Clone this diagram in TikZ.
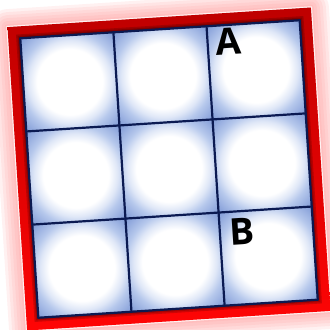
\documentclass[tikz,border=0pt]{standalone}
\usepackage{fontspec}
\setsansfont{Open Sans}
\definecolor{cellmid}{HTML}{DFE7F7}
\definecolor{celledge}{HTML}{B6C8EC}
\definecolor{celldeep}{HTML}{7591D2}
\definecolor{gridnavy}{HTML}{0B1A52}
\definecolor{framedark}{HTML}{BE0000}
\definecolor{framered}{HTML}{FF0505}
\pgfdeclareradialshading[cellmid,celledge,celldeep]{cellglow}{\pgfpoint{0bp}{0bp}}{color(0bp)=(white); color(16.5bp)=(white); color(21bp)=(cellmid); color(25bp)=(celledge); color(35bp)=(celldeep); color(50bp)=(celldeep)}
\begin{document}
\begin{tikzpicture}[x=1pt,y=1pt,line join=round,line cap=round,
	cell/.style={shading=cellglow},
	gridline/.style={draw=gridnavy,line width=2.2pt},
	letter/.style={anchor=north west,inner sep=0pt,text=black,transform shape,
		font=\sffamily\bfseries\fontsize{37}{37}\selectfont}]
	\useasboundingbox (0,0) rectangle (330,330);
	\fill[white] (0,0) rectangle (330,330);
	\begin{scope}[shift={(169,161)},rotate=3.7]
		% glow round the frame
		\foreach \g in {18,15,...,3}
			\fill[red!45,opacity=0.12,rounded corners=\g] (-152-\g,-152-\g) rectangle (152+\g,152+\g);
		\draw[white,line width=1.2pt,opacity=0.8] (-152.6,-152.6) rectangle (152.6,152.6);
		\shade[top color=framedark,bottom color=framered] (-152,-152) rectangle (152,152);
		% shadow of the grid on the frame
		\foreach \s in {4,2.5,1.2}
			\fill[black,opacity=0.18] (-140-\s,-140-\s) rectangle (140+\s,140+\s);
		\foreach \i in {0,1,2}
			\foreach \j in {0,1,2}
				\shade[cell] (-140+\i*93.333,-140+\j*93.333) rectangle ++(93.333,93.333);
		\foreach \k in {0,...,3}{
			\draw[gridline] (-140+\k*93.333,-140)--++(0,280);
			\draw[gridline] (-140,-140+\k*93.333)--++(280,0);
		}
		\node[letter] (labA) at (54.5,136.5) {A};
		\node[letter] (labB) at (56.5,-53.5) {B};
	\end{scope}
\end{tikzpicture}
\end{document}
